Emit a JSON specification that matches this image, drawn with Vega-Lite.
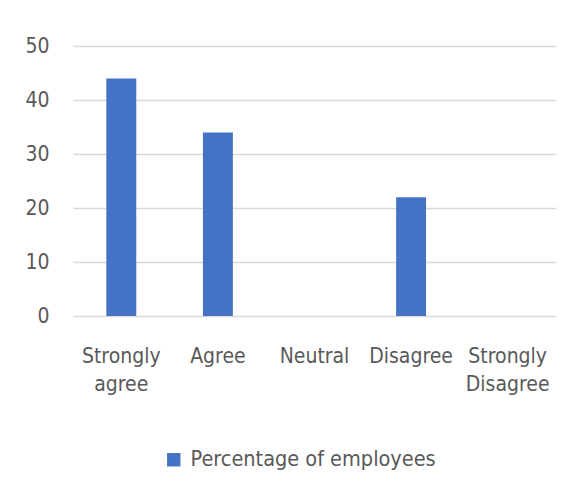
{
  "$schema": "https://vega.github.io/schema/vega-lite/v6.json",
  "autosize": "none",
  "width": 483,
  "height": 270,
  "padding": {"left": 73, "top": 46, "right": 24, "bottom": 188},
  "background": "white",
  "data": {
    "values": [
      {"response": "Strongly agree", "value": 44, "series": "Percentage of employees"},
      {"response": "Agree", "value": 34, "series": "Percentage of employees"},
      {"response": "Neutral", "value": 0, "series": "Percentage of employees"},
      {"response": "Disagree", "value": 22, "series": "Percentage of employees"},
      {"response": "Strongly Disagree", "value": 0, "series": "Percentage of employees"}
    ]
  },
  "mark": {"type": "bar", "color": "#4472C4"},
  "encoding": {
    "x": {
      "field": "response",
      "type": "nominal",
      "sort": null,
      "scale": {"paddingInner": 0.69, "paddingOuter": 0.345},
      "axis": {
        "title": null,
        "labelAngle": 0,
        "labelExpr": "split(datum.label, ' ')",
        "labelFont": "'DejaVu Sans Condensed', 'Open Sans'",
        "labelFontSize": 21,
        "labelColor": "#595959",
        "labelPadding": 29,
        "labelLineHeight": 28,
        "labelLimit": 200,
        "ticks": false,
        "domain": false,
        "grid": false
      }
    },
    "y": {
      "field": "value",
      "type": "quantitative",
      "scale": {"domain": [0, 50], "nice": false},
      "axis": {
        "title": null,
        "values": [0, 10, 20, 30, 40, 50],
        "labelFont": "'DejaVu Sans Condensed', 'Open Sans'",
        "labelFontSize": 21,
        "labelColor": "#595959",
        "labelPadding": 24,
        "ticks": false,
        "domain": false,
        "grid": true,
        "gridColor": "#d9d9d9",
        "gridWidth": 1.3
      }
    },
    "color": {
      "field": "series",
      "type": "nominal",
      "scale": {"range": ["#4472C4"]},
      "legend": {
        "title": null,
        "orient": "none",
        "legendX": 90,
        "legendY": 403,
        "symbolType": "square",
        "symbolSize": 180,
        "symbolStrokeWidth": 0,
        "labelFont": "'DejaVu Sans Condensed', 'Open Sans'",
        "labelFontSize": 21.5,
        "labelColor": "#595959",
        "labelOffset": 6,
        "labelLimit": 500
      }
    }
  },
  "config": {"view": {"stroke": null}}
}
